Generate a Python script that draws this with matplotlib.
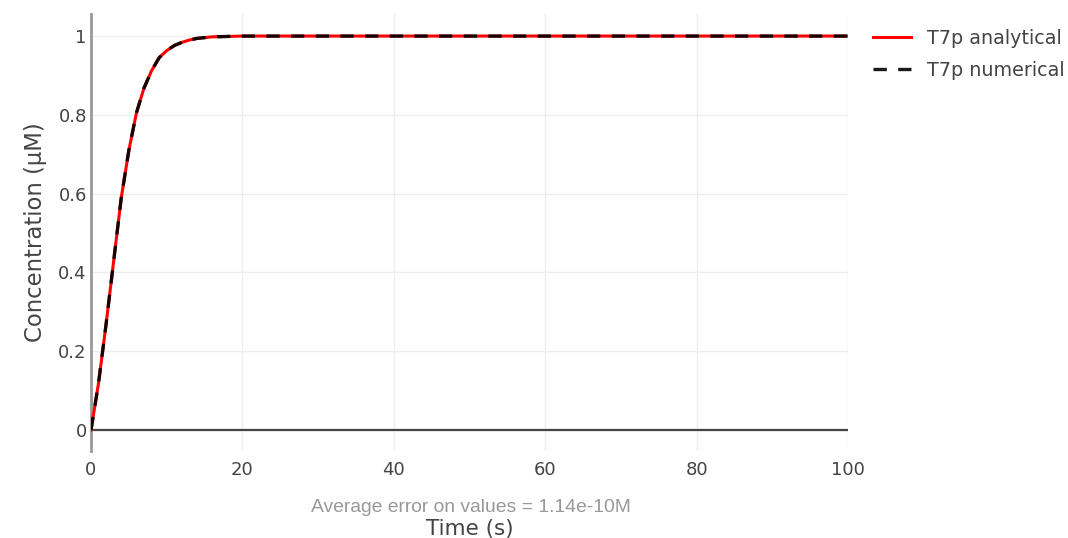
import numpy as np
import matplotlib
matplotlib.use("Agg")
import matplotlib.pyplot as plt

# time points (s) and concentrations (uM)
time_s = [0, 1, 2, 3, 4, 5, 6, 7, 8, 9, 10, 11, 12, 13, 14, 15, 16, 18, 20,
          25, 30, 40, 50, 60, 70, 80, 90, 100]
t7p_analytical = [0, 0.12, 0.27, 0.43, 0.59, 0.71, 0.805, 0.868, 0.912, 0.945,
                  0.963, 0.976, 0.984, 0.990, 0.994, 0.996, 0.998, 0.999, 1.0,
                  1.0, 1.0, 1.0, 1.0, 1.0, 1.0, 1.0, 1.0, 1.0]
t7p_numerical = [0, 0.12, 0.27, 0.43, 0.59, 0.71, 0.805, 0.868, 0.912, 0.945,
                 0.963, 0.976, 0.984, 0.990, 0.994, 0.996, 0.998, 0.999, 1.0,
                 1.0, 1.0, 1.0, 1.0, 1.0, 1.0, 1.0, 1.0, 1.0]
x_ticks = [0, 20, 40, 60, 80, 100]
y_ticks = [0, 0.2, 0.4, 0.6, 0.8, 1]
y_tick_labels = ["0", "0.2", "0.4", "0.6", "0.8", "1"]
error_note = "Average error on values = 1.14e-10M"

plt.rcParams["font.family"] = ["DejaVu Sans"]

fig = plt.figure(figsize=(10.68, 5.38), dpi=100)
ax = fig.add_axes([91 / 1068, 87 / 538, (848 - 91) / 1068, (451 - 14) / 538])

ax.plot(time_s, t7p_analytical, color="#ff0000", lw=2.2, label="T7p analytical",
        zorder=3)
ax.plot(time_s, t7p_numerical, color="#000000", lw=2.4, ls=(0, (4.0, 3.4)),
        label="T7p numerical", zorder=4, alpha=0.9)

ax.set_xlim(0, 100)
ax.set_ylim(-0.053, 1.056)
ax.set_xticks(x_ticks)
ax.set_yticks(y_ticks)
ax.set_yticklabels(y_tick_labels)

ax.grid(True, color="#eeeeee", lw=1)
ax.set_axisbelow(True)
for side in ["top", "right", "bottom"]:
    ax.spines[side].set_visible(False)
ax.spines["left"].set_color("#999999")
ax.spines["left"].set_linewidth(2)
ax.axhline(0, color="#444444", lw=1.6, zorder=2)

ax.tick_params(axis="both", length=0, labelsize=13, labelcolor="#444444")
ax.tick_params(axis="y", pad=3)
ax.tick_params(axis="x", pad=7)

ax.set_ylabel("Concentration (μM)", fontsize=16.4, color="#444444", labelpad=8)
ax.set_xlabel("Time (s)", fontsize=15.5, color="#444444", labelpad=29)

fig.text(471 / 1068, 1 - 508 / 538, error_note, ha="center", va="center",
         fontsize=13.9, color="#999999", family="Liberation Sans")

leg = ax.legend(loc="upper left", bbox_to_anchor=(1.033, 0.966), frameon=False,
                fontsize=13.8, labelcolor="#444444", handlelength=2.0,
                handletextpad=0.8, labelspacing=0.68, borderaxespad=0,
                borderpad=0)

fig.savefig("out.png", dpi=100)
